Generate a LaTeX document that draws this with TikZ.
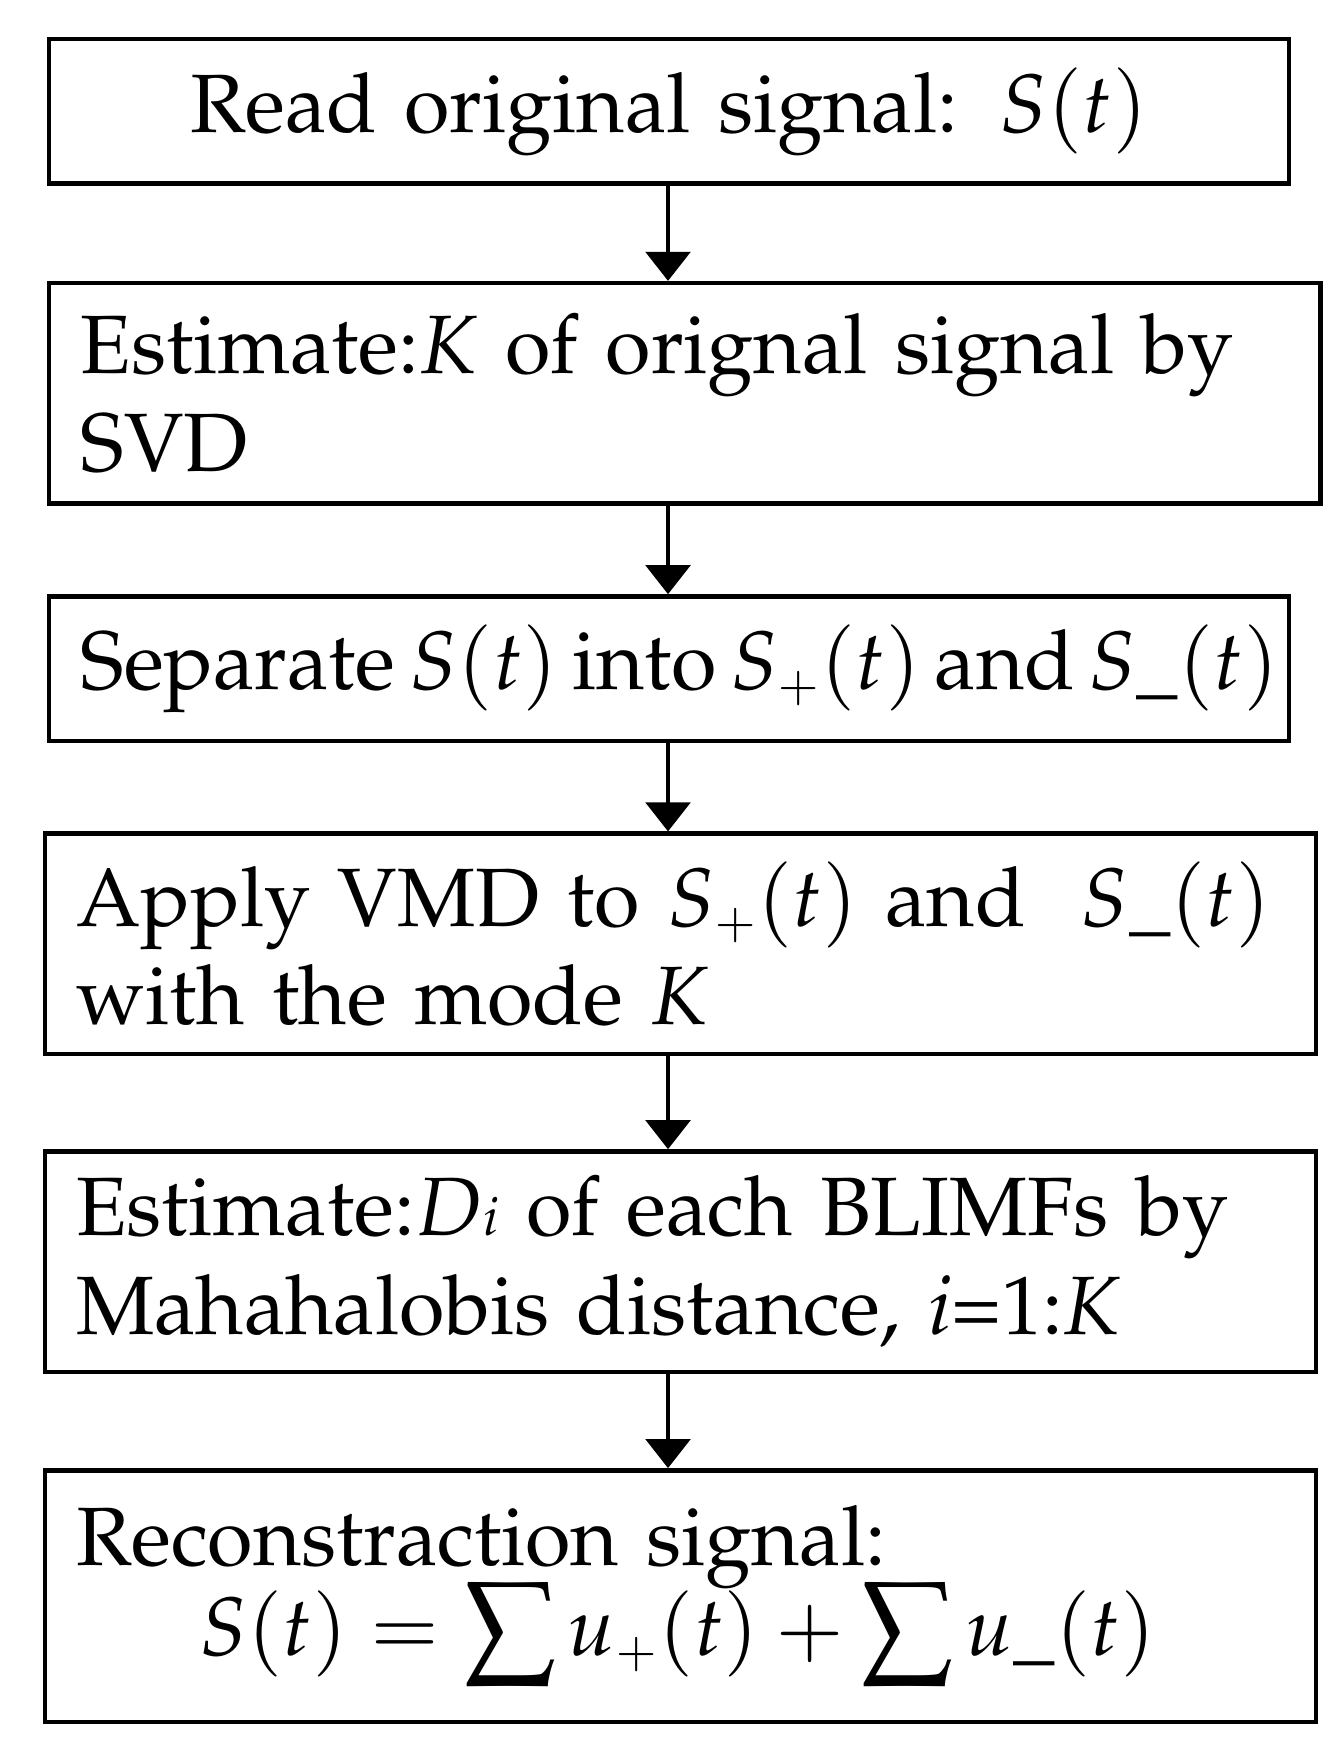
\documentclass[tikz,border=0pt]{standalone}
\usepackage[T1]{fontenc}
\usepackage{mathpazo}
\usetikzlibrary{arrows.meta}
\newcommand{\splus}{_{\scriptscriptstyle +}}
\newcommand{\sminus}{\_}
\begin{document}
\begin{tikzpicture}[x=0.5pt,y=-0.5pt,
  box/.style={draw,line width=2pt,rectangle,anchor=north west,inner xsep=14pt,inner ysep=0pt,
    align=left,font=\fontsize{37}{44}\selectfont},
  arr/.style={line width=1.6pt,-{Triangle[width=20pt,length=13pt]}}]
\useasboundingbox (0,0) rectangle (1190,1555);
\node[box,minimum width=554pt,minimum height=64.5pt,text width=526pt,align=center] (b1) at (42,33) {Read original signal: $S(t)$};
\node[box,minimum width=554pt,minimum height=98.5pt,text width=540pt] (b2) at (42,251) {Estimate:$K$ of orignal signal by\\SVD};
\node[box,minimum width=554pt,minimum height=64.5pt,text width=550pt,inner xsep=2pt] (b3) at (42,531) {\hspace*{12pt}Separate\,$S(t)$\,into\,$S\splus(t)$\,and\,$S\sminus(t)$};
\node[box,minimum width=554pt,minimum height=98.5pt,text width=540pt] (b4) at (38,743) {Apply VMD to $S\splus(t)$ and \ $S\sminus(t)$\\with the mode $K$};
\node[box,minimum width=556pt,minimum height=98.5pt,text width=540pt] (b5) at (38,1027) {Estimate:$D$\textit{\fontsize{24}{24}\selectfont i} of each BLIMFs by\\Mahahalobis distance, \textit{i}=1:\textit{K}};
\node[box,minimum width=556pt,minimum height=112.5pt,text width=540pt] (b6) at (38,1312) {Reconstraction signal:\\[-4pt]\hspace*{55pt}$\displaystyle S(t)=\sum u\splus(t)+\sum u\sminus(t)$};
\draw[arr] (597,162) -- (597,251);
\draw[arr] (597,448) -- (597,531);
\draw[arr] (597,660) -- (597,743);
\draw[arr] (597,940) -- (597,1027);
\draw[arr] (597,1224) -- (597,1312);
\end{tikzpicture}
\end{document}
